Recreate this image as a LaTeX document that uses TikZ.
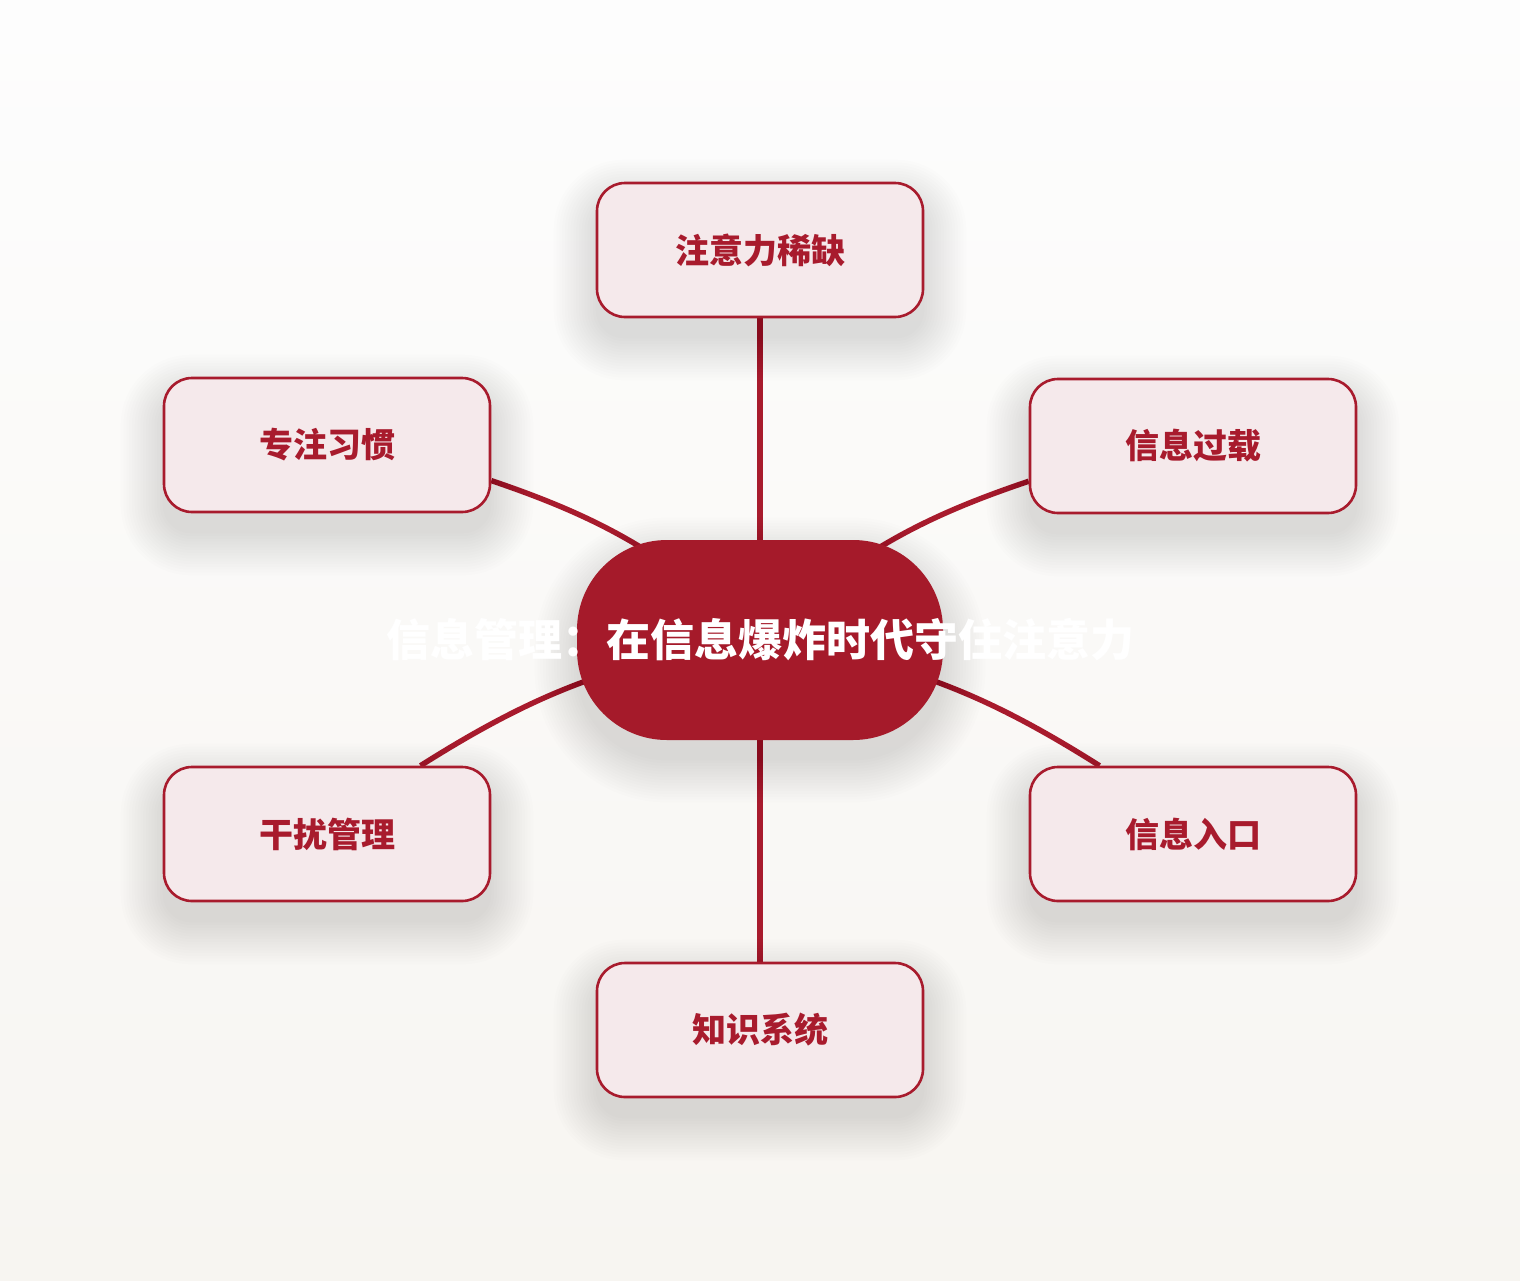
\documentclass[tikz,border=0pt]{standalone}
\usepackage{fontspec}
\setmainfont{Noto Sans CJK SC}
\usepackage{tikz}
\definecolor{hubred}{HTML}{A51A2A}
\definecolor{topicred}{HTML}{A81B2D}
\definecolor{topicfill}{HTML}{F5E9EB}
\definecolor{bgtop}{HTML}{FDFDFD}
\definecolor{bgbottom}{HTML}{F7F5F1}
\pgfdeclarelayer{bg}
\pgfdeclarelayer{edges}
\pgfdeclarelayer{shadows}
\pgfsetlayers{bg,edges,shadows,main}
\tikzstyle{topic}=[rectangle, rounded corners=14pt, draw=topicred, line width=1.3pt, fill=topicfill, minimum width=163pt, minimum height=67pt, text=topicred, font=\fontsize{17}{20}\selectfont\bfseries]
\tikzstyle{hub}=[rectangle, rounded corners=45pt, fill=hubred, minimum width=183pt, minimum height=100pt, text=white, font=\fontsize{22}{26}\selectfont\bfseries]
\tikzstyle{link}=[draw=topicred, line width=2.7pt]
\tikzstyle{haze}=[fill=black, opacity=.008]

\begin{document}
\begin{tikzpicture}[x=.5pt, y=-.5pt]
    \begin{pgfonlayer}{bg}
      \shade[top color=bgtop, bottom color=bgbottom] (0,0) rectangle (1520,1280);
    \end{pgfonlayer}
    \useasboundingbox (0,0) rectangle (1520,1280);
    \node[hub] (hub) at (760,640) {\makebox[0pt]{信息管理：在信息爆炸时代守住注意力}};
    \node[topic] (scarcity) at (760,250) {注意力稀缺};
    \node[topic] (focus) at (327,445) {专注习惯};
    \node[topic] (overload) at (1193,446) {信息过载};
    \node[topic] (distract) at (327,834) {干扰管理};
    \node[topic] (entry) at (1193,834) {信息入口};
    \node[topic] (knowledge) at (760,1030) {知识系统};
    % soft shadows
    \begin{pgfonlayer}{shadows}
      \foreach \n/\r in {hub/45,scarcity/14,focus/14,overload/14,distract/14,entry/14,knowledge/14}
        \foreach \i in {0,...,15}
          \fill[haze, rounded corners=\r pt+1.4*\i pt]
            ([shift={(-1.4*\i pt,1.4*\i pt-10pt)}]\n.north west) rectangle
            ([shift={(1.4*\i pt,-1.4*\i pt-10pt)}]\n.south east);
    \end{pgfonlayer}
    \begin{pgfonlayer}{edges}
      \draw[link] (hub.center) -- (scarcity);
      \draw[link] (hub.center) to[bend right=12] (focus);
      \draw[link] (hub.center) to[bend left=12] (overload);
      \draw[link] (hub.center) to[bend right=12] (distract);
      \draw[link] (hub.center) to[bend left=12] (entry);
      \draw[link] (hub.center) -- (knowledge);
    \end{pgfonlayer}
  \end{tikzpicture}
\end{document}
